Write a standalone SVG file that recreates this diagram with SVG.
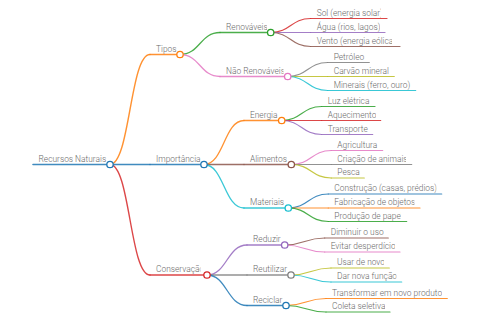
<svg xmlns="http://www.w3.org/2000/svg" width="480" height="320" viewBox="0 0 480 320">
<style>
text{font-family:Roboto,"Liberation Sans",sans-serif;font-size:8.4px;font-weight:300;fill:#6a6a6a}
path,line{fill:none;stroke-linecap:round;stroke-opacity:0.85}
circle{fill:#fff;stroke-width:1.3}
.l0{stroke-width:1.6}.l1{stroke-width:1.4}.l2{stroke-width:1.3}.l3{stroke-width:1.2}
.c0{stroke:#1f77b4}.c1{stroke:#ff7f0e}.c2{stroke:#2ca02c}.c3{stroke:#d62728}.c4{stroke:#9467bd}
.c5{stroke:#8c564b}.c6{stroke:#e377c2}.c7{stroke:#7f7f7f}.c8{stroke:#bcbd22}.c9{stroke:#17becf}
</style>
<defs>
<clipPath id="k-sol"><rect x="310" y="0" width="71" height="20"/></clipPath>
<clipPath id="k-agua"><rect x="310" y="20" width="70" height="14"/></clipPath>
<clipPath id="k-vento"><rect x="310" y="34" width="82" height="14"/></clipPath>
<clipPath id="k-pet"><rect x="327" y="50" width="38.5" height="14"/></clipPath>
<clipPath id="k-aq"><rect x="321" y="108" width="55" height="14"/></clipPath>
<clipPath id="k-cri"><rect x="331" y="152" width="75" height="14"/></clipPath>
<clipPath id="k-con"><rect x="328" y="182" width="108.5" height="14"/></clipPath>
<clipPath id="k-fab"><rect x="328" y="196" width="86.5" height="14"/></clipPath>
<clipPath id="k-pro"><rect x="328" y="210" width="73" height="14"/></clipPath>
<clipPath id="k-evi"><rect x="324" y="240" width="71" height="14"/></clipPath>
<clipPath id="k-usa"><rect x="331" y="256" width="53" height="14"/></clipPath>
<clipPath id="k-dar"><rect x="331" y="270" width="65.5" height="14"/></clipPath>
<clipPath id="k-tra"><rect x="326" y="286" width="116" height="14"/></clipPath>
<clipPath id="k-col"><rect x="326" y="300" width="59" height="14"/></clipPath>
<clipPath id="k-ren"><rect x="220" y="20" width="47" height="14"/></clipPath>
<clipPath id="k-nren"><rect x="220" y="64" width="63.5" height="14"/></clipPath>
<clipPath id="k-cons"><rect x="150" y="262" width="50.5" height="14"/></clipPath>
</defs>
<g id="connectors">
<path class="l1 c1" d="M110,164.5 C130,164.5 130,54.5 150,54.5"/>
<path class="l1 c0" d="M110,164.5 L150,164.5"/>
<path class="l1 c3" d="M110,164.5 C130,164.5 130,275 150,275"/>
<path class="l2 c2" d="M180,54.5 C200,54.5 200,32.5 220,32.5"/>
<path class="l2 c6" d="M180,54.5 C200,54.5 200,76.5 220,76.5"/>
<path class="l3 c3" d="M270.7,32.5 C290.7,32.5 290.7,18.5 310.7,18.5"/>
<path class="l3 c4" d="M270.7,32.5 L310.7,32.5"/>
<path class="l3 c5" d="M270.7,32.5 C290.7,32.5 290.7,46.5 310.7,46.5"/>
<path class="l3 c7" d="M287.7,76.5 C307.7,76.5 307.7,62.5 327.7,62.5"/>
<path class="l3 c8" d="M287.7,76.5 L327.7,76.5"/>
<path class="l3 c9" d="M287.7,76.5 C307.7,76.5 307.7,90.5 327.7,90.5"/>
<path class="l2 c1" d="M204,164.5 C224,164.5 224,120.5 244,120.5"/>
<path class="l2 c5" d="M204,164.5 L244,164.5"/>
<path class="l2 c9" d="M204,164.5 C224,164.5 224,208 244,208"/>
<path class="l3 c2" d="M281.7,120.5 C301.7,120.5 301.7,106.5 321.7,106.5"/>
<path class="l3 c3" d="M281.7,120.5 L321.7,120.5"/>
<path class="l3 c4" d="M281.7,120.5 C301.7,120.5 301.7,134.5 321.7,134.5"/>
<path class="l3 c6" d="M291.3,164.5 C311.3,164.5 311.3,150.5 331.3,150.5"/>
<path class="l3 c7" d="M291.3,164.5 L331.3,164.5"/>
<path class="l3 c8" d="M291.3,164.5 C311.3,164.5 311.3,178 331.3,178"/>
<path class="l3 c0" d="M288.3,208 C308.3,208 308.3,194 328.3,194"/>
<path class="l3 c1" d="M288.3,208 L328.3,208"/>
<path class="l3 c2" d="M288.3,208 C308.3,208 308.3,221.5 328.3,221.5"/>
<path class="l2 c4" d="M207,275 C227,275 227,245 247,245"/>
<path class="l2 c7" d="M207,275 L247,275"/>
<path class="l2 c0" d="M207,275 C227,275 227,305.5 247,305.5"/>
<path class="l3 c5" d="M284.7,245 C304.7,245 304.7,238 324.7,238"/>
<path class="l3 c6" d="M284.7,245 C304.7,245 304.7,252 324.7,252"/>
<path class="l3 c8" d="M291,275 C311,275 311,268 331,268"/>
<path class="l3 c9" d="M291,275 C311,275 311,282 331,282"/>
<path class="l3 c1" d="M286,305.5 C306,305.5 306,298.5 326,298.5"/>
<path class="l3 c2" d="M286,305.5 C306,305.5 306,312 326,312"/>
</g>
<g id="n-root"><line class="l0 c0" x1="33" y1="164.5" x2="110" y2="164.5"/><text x="38.5" y="161.5">Recursos Naturais</text><circle class="c0" cx="110" cy="164.5" r="3.2"/></g>
<g id="n-tipos"><line class="l1 c1" x1="150" y1="54.5" x2="180" y2="54.5"/><text x="156" y="51.5">Tipos</text><circle class="c1" cx="180" cy="54.5" r="3.2"/></g>
<g id="n-renovaveis"><line class="l2 c2" x1="220" y1="32.5" x2="270.7" y2="32.5"/><text x="226" y="29.5" clip-path="url(#k-ren)">Renováveis</text><circle class="c2" cx="270.7" cy="32.5" r="3.2"/></g>
<g id="n-sol"><line class="l3 c3" x1="310.7" y1="18.5" x2="387" y2="18.5"/><text x="316.7" y="15.5" clip-path="url(#k-sol)">Sol (energia solar)</text></g>
<g id="n-agua"><line class="l3 c4" x1="310.7" y1="32.5" x2="385" y2="32.5"/><text x="316.7" y="29.5" clip-path="url(#k-agua)">Água (rios, lagos)</text></g>
<g id="n-vento"><line class="l3 c5" x1="310.7" y1="46.5" x2="400" y2="46.5"/><text x="316.7" y="43.5" clip-path="url(#k-vento)">Vento (energia eólica)</text></g>
<g id="n-naorenovaveis"><line class="l2 c6" x1="220" y1="76.5" x2="287.7" y2="76.5"/><text x="226" y="73.5" clip-path="url(#k-nren)">Não Renováveis</text><circle class="c6" cx="287.7" cy="76.5" r="3.2"/></g>
<g id="n-petroleo"><line class="l3 c7" x1="327.7" y1="62.5" x2="369.3" y2="62.5"/><text x="333.7" y="59.5" clip-path="url(#k-pet)">Petróleo</text></g>
<g id="n-carvao"><line class="l3 c8" x1="327.7" y1="76.5" x2="394.3" y2="76.5"/><text x="333.7" y="73.5">Carvão mineral</text></g>
<g id="n-minerais"><line class="l3 c9" x1="327.7" y1="90.5" x2="415.7" y2="90.5"/><text x="333.7" y="87.5">Minerais (ferro, ouro)</text></g>
<g id="n-importancia"><line class="l1 c0" x1="150" y1="164.5" x2="204" y2="164.5"/><text x="156" y="161.5">Importância</text><circle class="c0" cx="204" cy="164.5" r="3.2"/></g>
<g id="n-energia"><line class="l2 c1" x1="244" y1="120.5" x2="281.7" y2="120.5"/><text x="250" y="117.5">Energia</text><circle class="c1" cx="281.7" cy="120.5" r="3.2"/></g>
<g id="n-luz"><line class="l3 c2" x1="321.7" y1="106.5" x2="375" y2="106.5"/><text x="327.7" y="103.5">Luz elétrica</text></g>
<g id="n-aquecimento"><line class="l3 c3" x1="321.7" y1="120.5" x2="380.7" y2="120.5"/><text x="327.7" y="117.5" clip-path="url(#k-aq)">Aquecimento</text></g>
<g id="n-transporte"><line class="l3 c4" x1="321.7" y1="134.5" x2="372.7" y2="134.5"/><text x="327.7" y="131.5">Transporte</text></g>
<g id="n-alimentos"><line class="l2 c5" x1="244" y1="164.5" x2="291.3" y2="164.5"/><text x="250" y="161.5">Alimentos</text><circle class="c5" cx="291.3" cy="164.5" r="3.2"/></g>
<g id="n-agricultura"><line class="l3 c6" x1="331.3" y1="150.5" x2="382.7" y2="150.5"/><text x="337.3" y="147.5">Agricultura</text></g>
<g id="n-criacao"><line class="l3 c7" x1="331.3" y1="164.5" x2="411.7" y2="164.5"/><text x="337.3" y="161.5" clip-path="url(#k-cri)">Criação de animais</text></g>
<g id="n-pesca"><line class="l3 c8" x1="331.3" y1="178" x2="364.3" y2="178"/><text x="337.3" y="175">Pesca</text></g>
<g id="n-materiais"><line class="l2 c9" x1="244" y1="208" x2="288.3" y2="208"/><text x="250" y="205">Materiais</text><circle class="c9" cx="288.3" cy="208" r="3.2"/></g>
<g id="n-construcao"><line class="l3 c0" x1="328.3" y1="194" x2="441.7" y2="194"/><text x="334.3" y="191" clip-path="url(#k-con)">Construção (casas, prédios)</text></g>
<g id="n-fabricacao"><line class="l3 c1" x1="328.3" y1="208" x2="420" y2="208"/><text x="334.3" y="205" clip-path="url(#k-fab)">Fabricação de objetos</text></g>
<g id="n-producao"><line class="l3 c2" x1="328.3" y1="221.5" x2="406.7" y2="221.5"/><text x="334.3" y="218.5" clip-path="url(#k-pro)">Produção de papel</text></g>
<g id="n-conservacao"><line class="l1 c3" x1="150" y1="275" x2="207" y2="275"/><text x="156" y="272" clip-path="url(#k-cons)">Conservação</text><circle class="c3" cx="207" cy="275" r="3.2"/></g>
<g id="n-reduzir"><line class="l2 c4" x1="247" y1="245" x2="284.7" y2="245"/><text x="253" y="242">Reduzir</text><circle class="c4" cx="284.7" cy="245" r="3.2"/></g>
<g id="n-diminuir"><line class="l3 c5" x1="324.7" y1="238" x2="388.3" y2="238"/><text x="330.7" y="235">Diminuir o uso</text></g>
<g id="n-evitar"><line class="l3 c6" x1="324.7" y1="252" x2="400" y2="252"/><text x="330.7" y="249" clip-path="url(#k-evi)">Evitar desperdício</text></g>
<g id="n-reutilizar"><line class="l2 c7" x1="247" y1="275" x2="291" y2="275"/><text x="253" y="272">Reutilizar</text><circle class="c7" cx="291" cy="275" r="3.2"/></g>
<g id="n-usar"><line class="l3 c8" x1="331" y1="268" x2="389.3" y2="268"/><text x="337" y="265" clip-path="url(#k-usa)">Usar de novo</text></g>
<g id="n-dar"><line class="l3 c9" x1="331" y1="282" x2="401.7" y2="282"/><text x="337" y="279" clip-path="url(#k-dar)">Dar nova função</text></g>
<g id="n-reciclar"><line class="l2 c0" x1="247" y1="305.5" x2="286" y2="305.5"/><text x="253" y="302.5">Reciclar</text><circle class="c0" cx="286" cy="305.5" r="3.2"/></g>
<g id="n-transformar"><line class="l3 c1" x1="326" y1="298.5" x2="447.3" y2="298.5"/><text x="332" y="295.5" clip-path="url(#k-tra)">Transformar em novo produto</text></g>
<g id="n-coleta"><line class="l3 c2" x1="326" y1="312" x2="390" y2="312"/><text x="332" y="309" clip-path="url(#k-col)">Coleta seletiva</text></g>
</svg>
